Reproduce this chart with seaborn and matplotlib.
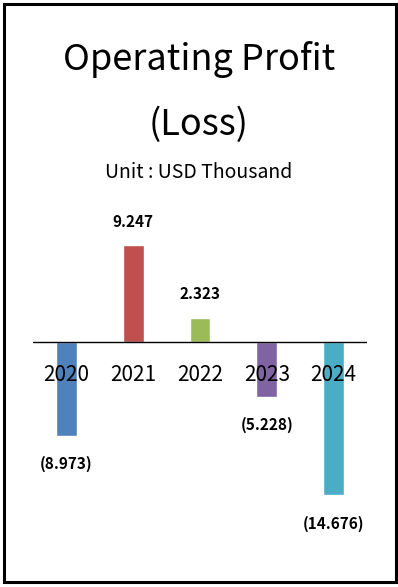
import matplotlib
matplotlib.use("Agg")
import matplotlib.pyplot as plt
import seaborn as sns
import pandas as pd
from matplotlib.patches import Rectangle

# Chart data
years = ["2020", "2021", "2022", "2023", "2024"]
profit = [-8.973, 9.247, 2.323, -5.228, -14.676]
labels = ["(8.973)", "9.247", "2.323", "(5.228)", "(14.676)"]
colors = ["#4F81BD", "#C0504D", "#9BBB59", "#8064A2", "#4BACC6"]

sns.set_style("white")
plt.rcParams["font.family"] = ["Noto Sans CJK KR", "DejaVu Sans"]

df = pd.DataFrame({"year": years, "profit": profit})

fig = plt.figure(figsize=(3.98, 5.87), dpi=100)
ax = fig.add_axes([33 / 398, 1 - 540 / 587, 334 / 398, 340 / 587])

sns.barplot(data=df, x="year", y="profit", hue="year", palette=colors,
            width=0.31, legend=False, saturation=1, ax=ax)

ax.set_xlim(-0.5, 4.5)
ax.set_ylim(-18.93, 13.57)
ax.axhline(0, color="black", lw=1)
for s in ax.spines.values():
    s.set_visible(False)
ax.set_xticks([])
ax.set_yticks([])
ax.set_xlabel("")
ax.set_ylabel("")

# category labels just under the zero line
for i, yr in enumerate(years):
    ax.annotate(yr, (i, 0), xytext=(0, -24), textcoords="offset points",
                ha="center", va="center", fontsize=15, color="black")

# value labels
for i, (v, lab) in enumerate(zip(profit, labels)):
    off = 17 if v > 0 else -20.5
    ax.annotate(lab, (i, v), xytext=(0, off), textcoords="offset points",
                ha="center", va="center", fontsize=11, fontweight="bold",
                color="black")

# titles
fig.text(0.5, 1 - 59 / 587, "Operating Profit", ha="center", va="center",
         fontsize=26, color="black")
fig.text(0.5, 1 - 125 / 587, "(Loss)", ha="center", va="center",
         fontsize=26, color="black")
fig.text(0.5, 1 - 172 / 587, "Unit : USD Thousand", ha="center", va="center",
         fontsize=14, color="black")

# outer frame
fig.patches.append(Rectangle((3.5 / 398, 1 - 581.5 / 587), 392 / 398, 578 / 587,
                             transform=fig.transFigure, fill=False,
                             edgecolor="black", lw=2.2))

fig.savefig("out.png", dpi=100)
